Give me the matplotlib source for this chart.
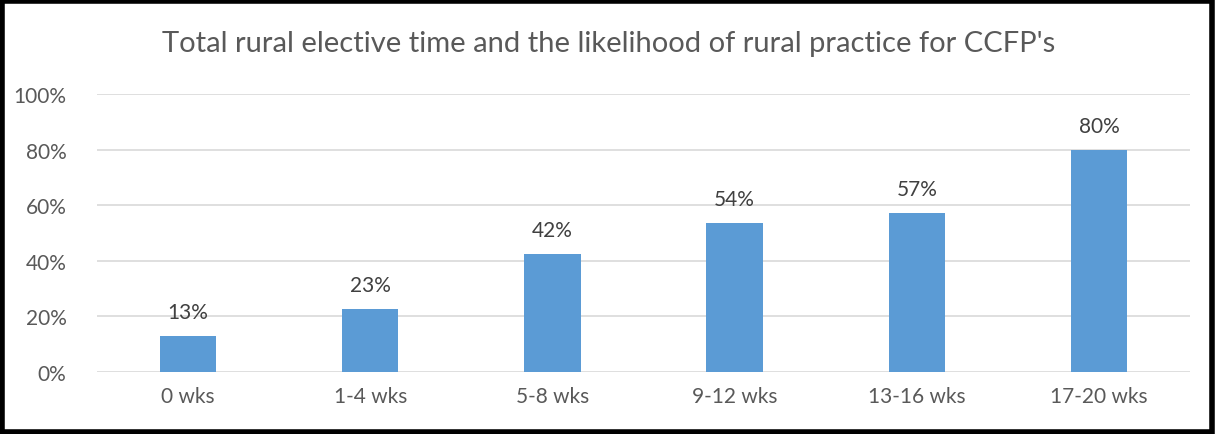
import matplotlib
matplotlib.use("Agg")
import matplotlib.pyplot as plt
from matplotlib.patches import Rectangle
from matplotlib.ticker import PercentFormatter

# Données
categories = ["0 wks", "1-4 wks", "5-8 wks", "9-12 wks", "13-16 wks", "17-20 wks"]
likelihood = [0.13, 0.227, 0.424, 0.536, 0.572, 0.80]
yticks = [0, 0.2, 0.4, 0.6, 0.8, 1.0]

plt.rcParams["font.family"] = ["Lato", "DejaVu Sans"]

fig = plt.figure(figsize=(12.17, 4.35), dpi=100)
ax = fig.add_axes([97 / 1217, 1 - 373 / 435, (1190 - 97) / 1217, (373 - 95) / 435])

x = range(len(categories))
ax.bar(x, likelihood, width=0.31, color="#5B9BD5", zorder=3)

for xi, v in zip(x, likelihood):
    ax.text(xi, v + 0.05, f"{v:.0%}", ha="center", va="bottom", fontsize=15, color="#404040")

ax.set_xlim(-0.5, len(categories) - 0.5)
ax.set_ylim(0, 1.0)
ax.set_yticks(yticks)
ax.yaxis.set_major_formatter(PercentFormatter(1.0, decimals=0))
ax.set_xticks(list(x))
ax.set_xticklabels(categories)
ax.tick_params(axis="both", length=0, labelsize=15, labelcolor="#595959")
ax.tick_params(axis="x", pad=10)
ax.tick_params(axis="y", pad=22)
ax.grid(axis="y", color="#D9D9D9", linewidth=1.2, zorder=0)
for s in ax.spines.values():
    s.set_visible(False)

fig.text(0.5, 1 - 44 / 435, "Total rural elective time and the likelihood of rural practice for CCFP's",
         ha="center", va="center", fontsize=21, color="#595959")

# Cadre noir autour de la figure
fig.patches.append(Rectangle((0.002, 0.005), 0.994, 0.99, transform=fig.transFigure,
                             fill=False, edgecolor="black", linewidth=4))

fig.savefig("out.png", dpi=100)
